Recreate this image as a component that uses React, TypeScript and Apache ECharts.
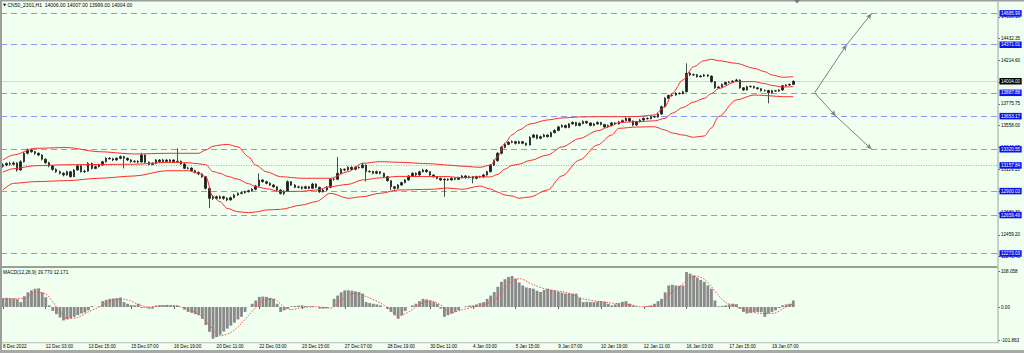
import React, { useEffect, useRef } from "react";
import * as echarts from "echarts";

const FONT = "'Liberation Sans', Arial, sans-serif";

// x-axis tick labels (every 12th 3-hour slot)
const timeLabels = [
  "8 Dec 2022", "12 Dec 03:00", "13 Dec 15:00", "15 Dec 07:00", "16 Dec 19:00",
  "20 Dec 11:00", "22 Dec 03:00", "23 Dec 15:00", "27 Dec 07:00", "28 Dec 19:00",
  "30 Dec 11:00", "4 Jan 03:00", "5 Jan 15:00", "9 Jan 07:00", "10 Jan 19:00",
  "12 Jan 11:00", "16 Jan 03:00", "17 Jan 15:00", "19 Jan 07:00",
];
const SLOT_COUNT = 280;
const LABEL_EVERY = 12;

// price axis tick labels
const priceTicks = [14650.10, 14432.35, 14214.60, 13996.85, 13775.75, 13558.00, 13340.25, 13119.15, 12901.40, 12680.30, 12459.20, 12241.45];
const macdTicks = [108.058, 0, -101.863];
const macdTickText = ["108.058", "0.00", "-101.863"];

// horizontal levels
const dashedLevels = [14685.99, 14371.01, 13887.88, 13653.17, 13320.55, 12900.03, 12659.49, 12273.03];
const dottedLevel = 13157.84;
const lastPrice = 14004.0;

// projection arrows [slot, price]
const arrowUp = [[228, 13887.88], [237, 14371.01], [244, 14685.99]];
const arrowDown = [[228, 13887.88], [234, 13653.17], [244, 13320.55]];

const opens = [
  13150,13162,13178,13170,13182,13112,13195,13280,13313,13296,
  13280,13263,13220,13185,13152,13118,13095,13079,13062,13095,
  13045,13112,13152,13095,13100,13178,13128,13145,13162,13195,
  13229,13225,13213,13229,13246,13229,13213,13195,13200,13192,
  13263,13190,13168,13178,13213,13195,13213,13198,13213,13195,
  13200,13172,13129,13132,13105,13088,13072,13045,12928,12827,
  12844,12827,12844,12827,12811,12834,12861,12877,12884,12894,
  12904,12918,12951,13012,12995,12978,12961,12944,12911,12877,
  12900,12995,12961,12938,12942,12928,12944,12928,12971,12938,
  12894,12911,12938,13020,13018,13079,13119,13112,13139,13119,
  13139,13135,13162,13095,13098,13079,13095,13079,13045,13005,
  12944,12928,12961,12985,13012,13052,13079,13062,13095,13112,
  13095,13062,13045,13028,13012,13018,13012,13028,13018,13035,
  13052,13035,13045,13028,13045,13042,13062,13095,13162,13205,
  13280,13340,13370,13390,13397,13380,13397,13380,13363,13440,
  13464,13430,13447,13464,13447,13487,13510,13545,13560,13540,
  13575,13590,13560,13580,13600,13585,13560,13575,13590,13570,
  13545,13560,13585,13575,13595,13608,13631,13604,13564,13597,
  13614,13631,13628,13648,13645,13675,13748,13832,13860,13866,
  13883,13880,13899,14084,14067,14070,14050,14056,14067,14056,
  14000,13938,13945,13972,13992,13995,14005,14017,13938,13916,
  13949,13952,13938,13929,13909,13912,13889,13909,13905,13916,
  13959,13966,13972,
];
const closes = [
  13162,13178,13170,13182,13112,13195,13280,13313,13296,13280,
  13263,13220,13185,13152,13118,13095,13079,13062,13095,13045,
  13112,13152,13095,13100,13178,13128,13145,13162,13195,13229,
  13225,13213,13229,13246,13229,13213,13195,13200,13192,13263,
  13190,13168,13178,13213,13195,13213,13198,13213,13195,13200,
  13172,13129,13132,13105,13088,13072,13045,12928,12827,12844,
  12827,12844,12827,12811,12834,12861,12877,12884,12894,12904,
  12918,12951,13012,12995,12978,12961,12944,12911,12877,12900,
  12995,12961,12938,12942,12928,12944,12928,12971,12938,12894,
  12911,12938,13020,13018,13079,13119,13112,13139,13119,13139,
  13135,13162,13095,13098,13079,13095,13079,13045,13005,12944,
  12928,12961,12985,13012,13052,13079,13062,13095,13112,13095,
  13062,13045,13028,13012,13018,13012,13028,13018,13035,13052,
  13035,13045,13028,13045,13042,13062,13095,13162,13205,13280,
  13340,13370,13390,13397,13380,13397,13380,13363,13440,13464,
  13430,13447,13464,13447,13487,13510,13545,13560,13540,13575,
  13590,13560,13580,13600,13585,13560,13575,13590,13570,13545,
  13560,13585,13575,13595,13608,13631,13604,13564,13597,13614,
  13631,13628,13648,13645,13675,13748,13832,13860,13866,13883,
  13880,13899,14084,14067,14070,14050,14056,14067,14056,14000,
  13938,13945,13972,13992,13995,14005,14017,13938,13916,13949,
  13952,13938,13929,13909,13912,13889,13909,13905,13916,13959,
  13966,13972,14004,
];
const highs = [
  13180,13190,13195,13198,13190,13210,13292,13328,13325,13305,
  13290,13270,13230,13195,13160,13128,13108,13090,13105,13102,
  13122,13165,13160,13115,13192,13185,13158,13175,13205,13240,
  13242,13235,13240,13258,13255,13238,13222,13212,13210,13285,
  13268,13198,13190,13222,13220,13225,13220,13222,13218,13330,
  13208,13180,13145,13140,13115,13098,13080,13052,12935,12860,
  12855,12858,12852,12838,12845,12872,12888,12895,12905,12915,
  12930,12962,13079,13020,13005,12988,12970,12950,12918,12910,
  13008,13002,12970,12955,12950,12955,12952,12982,12978,12945,
  12922,12950,13032,13035,13243,13132,13128,13150,13148,13152,
  13150,13185,13168,13110,13105,13108,13102,13085,13052,13010,
  12952,12972,12995,13022,13062,13090,13088,13105,13125,13120,
  13100,13070,13052,13035,13030,13028,13038,13035,13045,13062,
  13060,13055,13052,13055,13055,13072,13105,13172,13218,13292,
  13352,13385,13402,13410,13405,13408,13405,13388,13452,13475,
  13470,13458,13476,13470,13498,13522,13556,13572,13568,13585,
  13602,13596,13592,13612,13608,13590,13585,13600,13596,13575,
  13570,13595,13592,13606,13620,13642,13638,13610,13606,13625,
  13640,13642,13658,13660,13688,13760,13845,13872,13880,13895,
  13892,13910,14184,14098,14082,14078,14068,14078,14075,14062,
  14005,13958,13982,14002,14006,14015,14028,14022,13945,13960,
  13962,13960,13945,13935,13922,13918,13918,13916,13925,13968,
  13975,13982,14012,
];
const lows = [
  13135,13150,13158,13160,13095,13105,13188,13270,13285,13265,
  13250,13208,13175,13140,13105,13082,13066,13048,13055,13035,
  13040,13105,13085,13082,13095,13118,13120,13138,13155,13188,
  13215,13200,13205,13220,13128,13202,13185,13186,13180,13188,
  13180,13158,13160,13170,13185,13188,13190,13192,13186,13190,
  13165,13120,13118,13095,13078,13060,13032,12915,12730,12810,
  12815,12818,12812,12798,12805,12828,12852,12868,12875,12886,
  12896,12910,12945,12985,12968,12950,12932,12900,12866,12861,
  12895,12950,12928,12928,12915,12920,12918,12922,12928,12882,
  12885,12902,12930,13005,13010,13070,13100,13105,13108,13110,
  13125,13128,12995,13085,13068,13070,13068,13035,12995,12911,
  12915,12920,12952,12978,13005,13045,13052,13055,13088,13085,
  13052,13035,13018,13002,12844,13002,13005,13008,13010,13028,
  13025,13028,12978,13020,13032,13035,13055,13088,13152,13198,
  13270,13330,13360,13380,13368,13372,13370,13352,13358,13432,
  13420,13422,13440,13438,13440,13480,13502,13538,13530,13532,
  13568,13550,13552,13572,13575,13550,13552,13568,13560,13535,
  13538,13552,13566,13568,13588,13600,13595,13552,13558,13590,
  13606,13618,13620,13636,13638,13668,13740,13825,13850,13858,
  13870,13872,13892,14055,14058,14040,14042,14048,14045,13990,
  13928,13930,13940,13965,13985,13988,13998,13928,13905,13910,
  13940,13930,13920,13900,13900,13782,13880,13896,13898,13910,
  13950,13958,13968,
];

// Bollinger bands, read at selected slots
const bbSlots = [0,3,9,18,27,37,46,52,55,57,59,61,63,66,69,71,74,78,84,88,92,97,101,106,111,120,125,129,134,137,139,141,143,145,148,153,157,162,167,171,173,178,183,186,188,191,194,197,199,201,206,211,214,216,219,222];
const bbUpper = [13213,13263,13330,13338,13296,13273,13280,13280,13280,13313,13350,13363,13370,13346,13246,13162,13095,13045,13029,13029,13029,13095,13179,13196,13190,13175,13162,13150,13139,13162,13246,13380,13464,13514,13574,13615,13635,13645,13648,13648,13648,13650,13665,13748,13883,14017,14150,14211,14225,14211,14184,14134,14100,14067,14044,14050];
const bbMiddle = [13090,13125,13155,13165,13168,13170,13188,13185,13175,13165,13097,13079,13050,13020,12975,12945,12925,12895,12898,12911,12945,12968,13012,13033,13048,13046,13046,13034,13045,13042,13068,13120,13158,13171,13207,13263,13343,13429,13506,13556,13590,13597,13606,13631,13683,13740,13795,13832,13880,13930,14000,14000,13980,13962,13946,13950];
const bbLower = [12911,12978,12995,13005,13029,13052,13105,13105,13079,13045,12844,12794,12727,12693,12683,12690,12710,12717,12760,12794,12878,12828,12844,12878,12911,12918,12931,12918,12951,12921,12890,12861,12851,12828,12841,12911,13052,13213,13363,13464,13531,13544,13547,13514,13484,13464,13441,13454,13534,13648,13816,13866,13861,13856,13849,13849];

// MACD main (histogram), one value per candle
const macdMain = [
  27,28,27,26,24,15,33,45,51,56,
  57,45,30,5,-12,-22,-32,-41,-38,-34,
  -30,-25,-20,-17,-10,3,0,2,18,22,
  25,26,27,29,15,10,6,5,10,-3,
  -2,-5,-5,4,5,5,6,5,5,4,
  0,-8,-15,-18,-22,-25,-36,-55,-76,-97,
  -92,-85,-75,-66,-57,-48,-38,-30,-15,0,
  10,20,31,32,31,28,25,10,-15,-10,
  -5,2,3,4,5,3,2,3,0,-5,
  -5,-4,0,25,35,45,51,51,50,48,
  46,41,15,12,10,8,5,0,-5,-15,
  -25,-36,-25,-12,0,5,10,18,25,23,
  20,15,10,-5,-30,-25,-20,-15,-10,0,
  2,4,5,8,12,15,25,35,46,62,
  77,85,92,95,87,75,66,60,58,56,
  50,46,52,56,53,51,47,44,41,42,
  41,41,28,15,16,15,15,17,18,16,
  10,5,8,12,16,18,10,5,2,0,
  1,3,5,10,18,25,45,66,68,66,
  65,66,107,102,97,90,83,77,66,56,
  20,2,3,5,8,10,9,-5,-15,-20,
  -18,-15,-15,-16,-30,-20,-15,-10,-3,5,
  8,10,20,
];
// MACD signal, read at selected slots
const signalSlots = [0,6,9,12,14,16,18,21,24,27,29,32,35,38,41,44,48,51,55,58,61,64,67,69,71,73,76,79,81,84,88,92,95,99,102,106,109,111,114,117,120,123,126,129,134,137,139,142,145,149,153,158,163,169,173,176,179,184,187,190,193,195,197,199,201,203,205,209,213,216,220,222];
const signalValues = [25,27,45,40,15,-15,-35,-32,-15,0,12,24,22,8,0,4,5,-3,-22,-55,-88,-78,-50,-25,-2,20,24,0,-8,-2,1,-3,22,42,32,12,-10,-28,-15,8,19,6,-18,-8,4,15,30,70,87,68,53,45,25,15,10,8,1,6,38,62,88,94,85,62,35,14,6,-10,-20,-20,0,10];

export default function App() {
  const ref = useRef<HTMLDivElement>(null);
  useEffect(() => {
    document.body.style.margin = "0";
    const chart = echarts.init(ref.current!, null, { renderer: "svg" });

    const categories = Array.from({ length: SLOT_COUNT }, (_, i) =>
      i % LABEL_EVERY === 0 && timeLabels[i / LABEL_EVERY] ? timeLabels[i / LABEL_EVERY] : `s${i}`
    );
    const isLabelSlot = (i: number) => i % LABEL_EVERY === 0 && i / LABEL_EVERY < timeLabels.length;
    const candles = closes.map((c, i) => [opens[i], c, lows[i], highs[i]]);
    const pair = (xs: number[], ys: number[]) => xs.map((x, i) => [x, ys[i]]);

    const boxLabel = (bg: string) => ({
      show: true,
      position: "end",
      distance: 1.5,
      formatter: "{b}",
      color: "#ffffff",
      backgroundColor: bg,
      fontSize: 4.6,
      fontFamily: FONT,
      padding: [1, 1.5, 0.5, 1.5],
    });

    const levelItems: any[] = dashedLevels.map((v) => ({
      yAxis: v,
      name: v.toFixed(2),
      lineStyle: { type: [6, 4], color: "#8e98f4", width: 1.1 },
      label: boxLabel("#0a14f0"),
    }));
    levelItems.push({
      yAxis: dottedLevel,
      name: dottedLevel.toFixed(2),
      lineStyle: { type: [1, 1.5], color: "#9aa4f0", width: 1.1 },
      label: boxLabel("#0a14f0"),
    });
    levelItems.push({
      yAxis: lastPrice,
      name: lastPrice.toFixed(2),
      lineStyle: { type: "solid", color: "#d4dad4", width: 1 },
      label: boxLabel("#000000"),
    });

    const arrowSegs = (pts: number[][]) =>
      pts.slice(1).map((p, i) => [{ coord: pts[i] }, { coord: p }]);

    const option: any = {
      animation: false,
      backgroundColor: "#F0FFF0",
      textStyle: { fontFamily: FONT },
      grid: [
        { left: 1, right: 26, top: 2, height: 264 },
        { left: 1, right: 26, top: 268, height: 74.5 },
      ],
      xAxis: [
        {
          type: "category", gridIndex: 0, data: categories, boundaryGap: true,
          axisLine: { show: false }, axisTick: { show: false }, axisLabel: { show: false }, splitLine: { show: false },
        },
        {
          type: "category", gridIndex: 1, data: categories, boundaryGap: true,
          axisLine: { show: false },
          axisTick: { show: true, interval: (i: number) => isLabelSlot(i), alignWithLabel: true, length: 2, lineStyle: { color: "#606060" } },
          axisLabel: {
            show: true, interval: (i: number) => isLabelSlot(i), align: "left", margin: 1.5,
            fontSize: 4.6, color: "#000", fontFamily: FONT,
            formatter: (v: string) => (v.charAt(0) === "s" ? "" : v),
          },
          splitLine: { show: false },
        },
      ],
      yAxis: [
        {
          type: "value", gridIndex: 0, position: "right", min: 12147.3, max: 14800.5, scale: true,
          axisLine: { show: false },
          axisTick: { show: true, customValues: priceTicks, length: 2, lineStyle: { color: "#606060" } },
          axisLabel: { show: true, customValues: priceTicks, formatter: (v: number) => v.toFixed(2), fontSize: 4.6, color: "#000", margin: 3, fontFamily: FONT },
          splitLine: { show: false },
        },
        {
          type: "value", gridIndex: 1, position: "right", min: -108.6, max: 119.4,
          axisLine: { show: false },
          axisTick: { show: true, customValues: macdTicks, length: 2, lineStyle: { color: "#606060" } },
          axisLabel: {
            show: true, customValues: macdTicks, fontSize: 4.6, color: "#000", margin: 3, fontFamily: FONT,
            formatter: (v: number) => {
              const k = macdTicks.findIndex((t) => Math.abs(t - v) < 1e-6);
              return k >= 0 ? macdTickText[k] : "";
            },
          },
          splitLine: { show: false },
        },
      ],
      series: [
        {
          type: "candlestick", xAxisIndex: 0, yAxisIndex: 0, data: candles, barWidth: 2,
          itemStyle: { color: "#1e1e1e", color0: "#1e1e1e", borderColor: "#1e1e1e", borderColor0: "#1e1e1e", borderWidth: 0.8 },
          silent: true, z: 3,
          markLine: { silent: true, symbol: ["none", "none"], precision: 2, data: levelItems, z: 1 },
        },
        {
          type: "line", xAxisIndex: 0, yAxisIndex: 0, data: pair(bbSlots, bbUpper), smooth: 0.3, smoothMonotone: "x",
          showSymbol: false, silent: true, lineStyle: { color: "#ff2a2a", width: 1 }, z: 4,
        },
        {
          type: "line", xAxisIndex: 0, yAxisIndex: 0, data: pair(bbSlots, bbMiddle), smooth: 0.3, smoothMonotone: "x",
          showSymbol: false, silent: true, lineStyle: { color: "#ff2a2a", width: 1 }, z: 4,
        },
        {
          type: "line", xAxisIndex: 0, yAxisIndex: 0, data: pair(bbSlots, bbLower), smooth: 0.3, smoothMonotone: "x",
          showSymbol: false, silent: true, lineStyle: { color: "#ff2a2a", width: 1 }, z: 4,
        },
        {
          type: "line", xAxisIndex: 0, yAxisIndex: 0, data: [], silent: true,
          markLine: {
            silent: true, symbol: ["none", "arrow"], symbolSize: [4, 6],
            lineStyle: { color: "#808080", width: 1, type: "solid" }, label: { show: false },
            data: [...arrowSegs(arrowUp), ...arrowSegs(arrowDown)],
          },
        },
        {
          type: "bar", xAxisIndex: 1, yAxisIndex: 1, data: macdMain, barCategoryGap: "20%",
          itemStyle: { color: "#8a8a8a" }, silent: true,
        },
        {
          type: "line", xAxisIndex: 1, yAxisIndex: 1, data: pair(signalSlots, signalValues), smooth: 0.3,
          showSymbol: false, silent: true, lineStyle: { color: "#ff4a4a", width: 1, type: [1.5, 1.5] }, z: 4,
        },
      ],
      graphic: [
        { type: "rect", shape: { x: 0, y: 0, width: 1024, height: 1.5 }, style: { fill: "#9c9c9c" }, z: 100 },
        { type: "rect", shape: { x: 0, y: 0, width: 2, height: 353 }, style: { fill: "#9c9c9c" }, z: 100 },
        { type: "rect", shape: { x: 0, y: 350, width: 1024, height: 3 }, style: { fill: "#a8a8a8" }, z: 100 },
        { type: "rect", shape: { x: 2, y: 266.3, width: 996, height: 1.4 }, style: { fill: "#7a827a" }, z: 100 },
        { type: "rect", shape: { x: 2, y: 342.3, width: 996, height: 1 }, style: { fill: "#b4bcb4" }, z: 100 },
        { type: "rect", shape: { x: 997.3, y: 1.5, width: 1.5, height: 341.8 }, style: { fill: "#b8c0b8" }, z: 100 },
        { type: "polygon", shape: { points: [[794, 0], [800, 0], [797, 3.5]] }, style: { fill: "#7a7a7a" }, z: 101 },
        { type: "polygon", shape: { points: [[3, 3.8], [6.2, 3.8], [4.6, 6.2]] }, style: { fill: "#000" }, z: 101 },
        {
          type: "text", x: 7.5, y: 2.3, z: 101,
          style: { text: "CN50_2301,H1  14006.00 14007.00 13999.00 14004.00", fontSize: 5, fill: "#000", fontFamily: FONT },
        },
        {
          type: "text", x: 3, y: 269.5, z: 101,
          style: { text: "MACD(12,26,9) 19.770 12.171", fontSize: 4.8, fill: "#000", fontFamily: FONT },
        },
      ],
    };

    chart.setOption(option);
    return () => chart.dispose();
  }, []);
  return <div ref={ref} style={{ width: 1024, height: 353 }} />;
}
